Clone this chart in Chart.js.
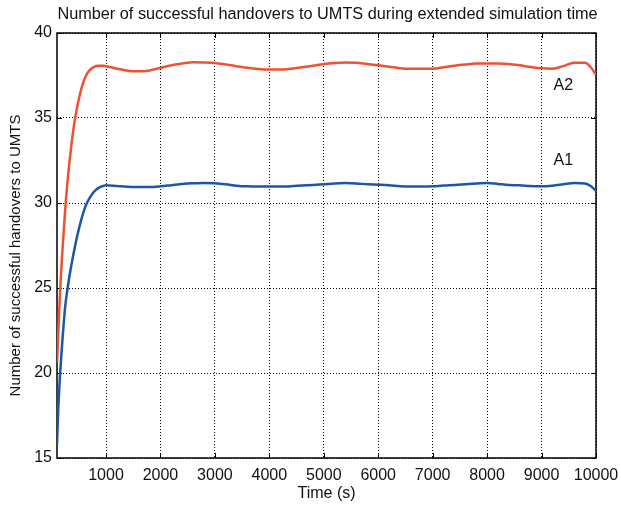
<!DOCTYPE html>
<html>
<head>
<meta charset="utf-8">
<script src="https://cdn.jsdelivr.net/npm/chart.js@4.4.1/dist/chart.umd.min.js"></script>
<style>
  html, body { margin: 0; padding: 0; background: #ffffff; }
  #wrap { width: 621px; height: 508px; }
</style>
</head>
<body>
<div id="wrap"><canvas id="c" width="621" height="508"></canvas></div>
<script>
// ---- data ----
const TIME = [100, 125, 150, 175, 200, 250, 300, 350, 400, 450, 500, 550, 600, 650, 700, 750, 800, 850, 900, 950,
  1000, 1200, 1400, 1600, 1800, 2000, 2200, 2400, 2600, 2800, 3000, 3200, 3400, 3600, 3800,
  4000, 4200, 4400, 4600, 4800, 5000, 5200, 5400, 5600, 5800, 6000, 6200, 6400, 6600, 6800,
  7000, 7200, 7400, 7600, 7800, 8000, 8200, 8400, 8600, 8800, 9000, 9200, 9400, 9600, 9800, 9900, 10000];

const A2 = [20.6, 22.5, 24.3, 25.9, 27.2, 29.6, 31.5, 33.0, 34.3, 35.3, 36.1, 36.75, 37.25, 37.6, 37.82, 37.95, 38.03, 38.07, 38.08, 38.07,
  38.05, 37.9, 37.78, 37.75, 37.8, 37.95, 38.1, 38.2, 38.28, 38.27, 38.24, 38.15, 38.05, 37.95, 37.88,
  37.85, 37.85, 37.9, 37.98, 38.07, 38.18, 38.24, 38.27, 38.25, 38.17, 38.1, 38.02, 37.93, 37.9, 37.9,
  37.9, 37.98, 38.08, 38.15, 38.2, 38.2, 38.2, 38.18, 38.1, 38.0, 37.92, 37.9, 38.05, 38.25, 38.25, 38.0, 37.55];

const A1 = [15.8, 18.0, 19.6, 20.8, 21.95, 23.9, 25.1, 26.1, 26.95, 27.75, 28.45, 29.07, 29.6, 30.0, 30.3, 30.55, 30.73, 30.86, 30.95, 31.0,
  31.05, 31.0, 30.95, 30.94, 30.94, 30.98, 31.05, 31.12, 31.16, 31.18, 31.16, 31.1, 31.02, 30.98, 30.97,
  30.97, 30.97, 30.99, 31.03, 31.06, 31.1, 31.15, 31.17, 31.15, 31.1, 31.08, 31.05, 30.99, 30.97, 30.97,
  30.98, 31.03, 31.06, 31.1, 31.14, 31.18, 31.12, 31.06, 31.04, 31.0, 30.98, 31.02, 31.1, 31.18, 31.15, 31.0, 30.72];

const X_TICKS = [1000, 2000, 3000, 4000, 5000, 6000, 7000, 8000, 9000, 10000];
const Y_TICKS = [15, 20, 25, 30, 35, 40];

const SERIES_LABELS = [
  { text: 'A2', x: 9400, y: 36.9 },
  { text: 'A1', x: 9400, y: 32.5 }
];

const TITLE = 'Number of successful handovers to UMTS during extended simulation time';
const X_TITLE = 'Time (s)';
const Y_TITLE = 'Number of successful handovers to UMTS';

// ---- chart ----
const FONT = '"Liberation Sans", Arial, Helvetica, sans-serif';

const toPoints = (ys) => TIME.map((t, i) => ({ x: t, y: ys[i] }));

const framePlugin = {
  id: 'frame',
  beforeDatasetsDraw(chart) {
    const { ctx, chartArea: a, scales } = chart;
    ctx.save();
    ctx.strokeStyle = '#000';
    ctx.lineWidth = 1;
    ctx.setLineDash([]);
    ctx.beginPath();
    const tl = 5;
    X_TICKS.forEach(v => {
      const px = Math.round(scales.x.getPixelForValue(v)) + 0.5;
      ctx.moveTo(px, a.bottom); ctx.lineTo(px, a.bottom - tl);
      ctx.moveTo(px, a.top); ctx.lineTo(px, a.top + tl);
    });
    Y_TICKS.forEach(v => {
      const py = Math.round(scales.y.getPixelForValue(v)) + 0.5;
      ctx.moveTo(a.left, py); ctx.lineTo(a.left + tl, py);
      ctx.moveTo(a.right, py); ctx.lineTo(a.right - tl, py);
    });
    ctx.stroke();
    ctx.lineWidth = 1.5;
    ctx.strokeRect(a.left, a.top, a.right - a.left, a.bottom - a.top);
    ctx.restore();
  },
  afterDatasetsDraw(chart) {
    const { ctx, scales, chartArea: a } = chart;
    ctx.save();
    ctx.fillStyle = '#111';
    ctx.textAlign = 'center';
    ctx.textBaseline = 'middle';
    ctx.font = '16px ' + FONT;
    SERIES_LABELS.forEach(l => {
      ctx.fillText(l.text, scales.x.getPixelForValue(l.x), scales.y.getPixelForValue(l.y));
    });
    // main title, centred over the plot area
    ctx.font = '16.3px ' + FONT;
    ctx.fillText(TITLE, (a.left + a.right) / 2 + 1, 15);
    // y-axis title
    ctx.font = '15px ' + FONT;
    ctx.translate(16, (a.top + a.bottom) / 2 + 10);
    ctx.rotate(-Math.PI / 2);
    ctx.fillText(Y_TITLE, 0, 0);
    ctx.restore();
  }
};

new Chart(document.getElementById('c'), {
  type: 'line',
  data: {
    datasets: [
      {
        label: 'A2',
        data: toPoints(A2),
        borderColor: '#f05132',
        borderWidth: 2.5,
        pointRadius: 0,
        fill: false,
        cubicInterpolationMode: 'monotone'
      },
      {
        label: 'A1',
        data: toPoints(A1),
        borderColor: '#1d57a4',
        borderWidth: 2.5,
        pointRadius: 0,
        fill: false,
        cubicInterpolationMode: 'monotone'
      }
    ]
  },
  options: {
    responsive: false,
    animation: false,
    events: [],
    layout: { padding: { left: 0, right: 25, top: 33, bottom: 0 } },
    plugins: {
      legend: { display: false },
      tooltip: { enabled: false },
      title: { display: false }
    },
    scales: {
      x: {
        type: 'linear',
        min: 100,
        max: 10000,
        afterBuildTicks: (s) => { s.ticks = X_TICKS.map(v => ({ value: v })); },
        afterFit: (s) => { s.height = 50; s.paddingLeft = 0; s.paddingRight = 0; },
        grid: { color: '#000', lineWidth: 1, drawTicks: false },
        border: { display: false, dash: [1, 2] },
        ticks: {
          color: '#111',
          font: { family: FONT, size: 16 },
          padding: 8,
          maxRotation: 0,
          autoSkip: false,
          callback: (v) => String(v)
        },
        title: {
          display: true,
          text: X_TITLE,
          color: '#111',
          font: { family: FONT, size: 16, lineHeight: 1.2 },
          padding: { top: 0, bottom: 5 }
        }
      },
      y: {
        type: 'linear',
        min: 15,
        max: 40,
        afterBuildTicks: (s) => { s.ticks = Y_TICKS.map(v => ({ value: v })); },
        afterFit: (s) => { s.width = 57; s.paddingTop = 0; s.paddingBottom = 0; },
        grid: { color: '#000', lineWidth: 1, drawTicks: false },
        border: { display: false, dash: [1, 2] },
        ticks: {
          color: '#111',
          font: { family: FONT, size: 16 },
          padding: 5,
          callback: (v) => String(v)
        }
      }
    }
  },
  plugins: [framePlugin]
});
</script>
</body>
</html>
